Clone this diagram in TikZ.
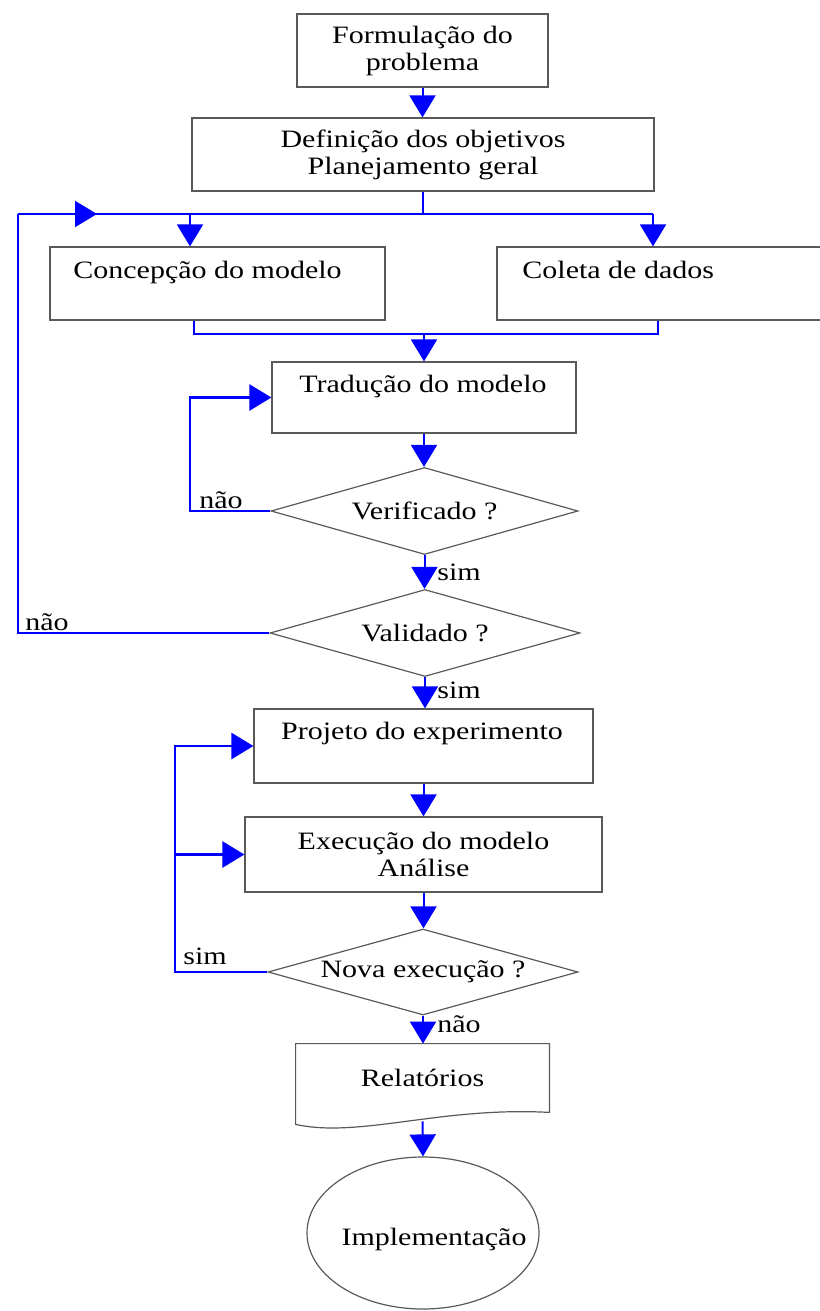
\documentclass[tikz,border=0pt]{standalone}
\usepackage{fontspec}
\setmainfont{Liberation Serif}[FakeStretch=1.2]
\usetikzlibrary{arrows.meta,shapes.geometric,calc}

\begin{document}
\begin{tikzpicture}[x=0.5pt,y=-0.5pt,
  every node/.style={font=\fontsize{12.5}{13.5}\selectfont},
  box/.style={draw=black!65, line width=0.6pt, rectangle, inner sep=0pt, align=center},
  decision/.style={draw=black!65, line width=0.6pt, diamond, inner sep=0pt},
  terminal/.style={draw=black!65, line width=0.6pt, ellipse, inner sep=0pt},
  wire/.style={draw=blue, line width=1pt},
  arr/.style={wire, -{Triangle[width=13pt,length=11pt]}},
  loopwire/.style={draw=blue, line width=1.4pt},
  looparr/.style={loopwire, -{Triangle[width=13pt,length=11pt]}},
  lab/.style={anchor=base west, inner sep=0pt},
  txt/.style={inner sep=0pt}
]
\useasboundingbox (0,0) rectangle (819,1311);

% --- boxes ---
\node[box, minimum width=125.5pt, minimum height=36.5pt] (f1) at (422.5,50.5)
  {Formulação do\\problema};
\node[box, minimum width=231pt, minimum height=36.5pt] (f2) at (423,154.5)
  {Definição dos objetivos\\Planejamento geral};
\node[box, minimum width=167.5pt, minimum height=36.5pt] (conc) at (217.5,283.5) {};
\node[box, minimum width=176.5pt, minimum height=36.5pt] (col) at (673.5,283.5) {};
\node[txt, anchor=base west] (concT) at (73,278) {Concepção do modelo};
\node[txt, anchor=base west] (colT) at (522,278) {Coleta de dados};
\node[box, minimum width=152pt, minimum height=35.5pt] (trad) at (424,397.5) {};
\node[txt, anchor=base] (tradT) at (423,392) {Tradução do modelo};

\node[decision, shape aspect=3.53, minimum width=153.5pt, minimum height=43.5pt] (verif) at (424.5,511) {Verificado ?};
\node[decision, shape aspect=3.56, minimum width=155pt, minimum height=43.5pt] (valid) at (425,633) {Validado ?};

\node[box, minimum width=169.5pt, minimum height=37pt] (proj) at (423.5,746) {};
\node[txt, anchor=base] (projT) at (422,739) {Projeto do experimento};
\node[box, minimum width=178.5pt, minimum height=37.5pt] (exec) at (423.5,854.5)
  {Execução do modelo\\Análise};
\node[decision, shape aspect=3.6, minimum width=155pt, minimum height=43pt] (nova) at (423,972) {Nova execução ?};

% document symbol
\node[txt, minimum width=126.5pt, minimum height=34pt] (rel) at (422.5,1078) {Relatórios};
\draw[draw=black!65, line width=0.6pt]
  ($(rel.south west)+(0,12)$) -- (rel.north west) -- (rel.north east) -- (rel.south east)
  .. controls ($(rel.south east)+(-109,-6)$) and ($(rel.south west)+(64,26)$)
  .. ($(rel.south west)+(0,12)$) -- cycle;

% terminal
\node[terminal, minimum width=116pt, minimum height=76pt] (impl) at (423,1233) {};
\node[txt, anchor=base] (implT) at (434,1245) {Implementação};

% --- connectors ---
\draw[arr] (f1.south) -- (f1.south |- f2.north);

\coordinate (busW) at (18,214);
\coordinate (busA) at (97,214);
\coordinate (busL) at (190,214);
\coordinate (busE) at (653,214);
\draw[wire] (f2.south) -- (f2.south |- busE);
\draw[wire] (busW) -- (busE);
\draw[arr] (busL) -- (busL |- conc.north);
\draw[arr] (busE) -- (busE |- col.north);

\coordinate (mL) at (194,334);
\coordinate (mC) at (424,334);
\coordinate (mR) at (658,334);
\draw[wire] (mL |- conc.south) -- (mL) -- (mR) -- (mR |- col.south);
\draw[arr] (mC) -- (mC |- trad.north);

\draw[arr] (trad.south) -- (trad.south |- verif.north);
\coordinate (vl) at (190,511);
\draw[looparr] (verif.west) -- (vl) |- (trad.west);

\draw[arr] (verif.south) -- (verif.south |- valid.north);
\draw[loopwire] (valid.west) -- (busW |- valid.west) -- (busW);
\draw[arr] (busW) -- (busA);

\draw[arr] (valid.south) -- (valid.south |- proj.north);
\draw[arr] (proj.south) -- (proj.south |- exec.north);
\draw[arr] (exec.south) -- (exec.south |- nova.north);

\coordinate (nl) at (175,972);
\draw[looparr] (nova.west) -- (nl) |- (proj.west);
\draw[looparr] (nl |- exec.west) -- (exec.west);

\draw[arr] (nova.south) -- (nova.south |- rel.north);
\draw[arr] ($(rel.south)+(0,9)$) -- (impl.north);

% --- branch labels ---
\node[lab] (l1) at (199,508) {não};
\node[lab] (l2) at (437,580) {sim};
\node[lab] (l3) at (25,630) {não};
\node[lab] (l4) at (437,698) {sim};
\node[lab] (l5) at (183,964) {sim};
\node[lab] (l6) at (437,1032) {não};
\end{tikzpicture}
\end{document}
